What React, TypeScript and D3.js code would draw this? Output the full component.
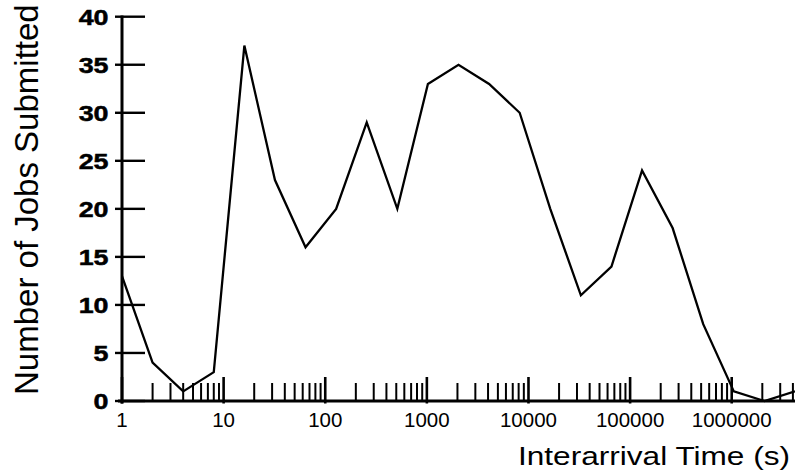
import React from "react";
import * as d3 from "d3";

const intervals = [
  1, 2, 4, 8, 16, 32, 64, 128, 256, 512, 1024, 2048, 4096, 8192, 16384, 32768,
  65536, 131072, 262144, 524288, 1048576, 2097152, 4194304,
];
const jobs = [13, 4, 1, 3, 37, 23, 16, 20, 29, 20, 33, 35, 33, 30, 20, 11, 14, 24, 18, 8, 1, 0, 1];
const xMajorTicks = [1, 10, 100, 1000, 10000, 100000, 1000000];
const xTickLabels = ["1", "10", "100", "1000", "10000", "100000", "1000000"];
const yTicks = [0, 5, 10, 15, 20, 25, 30, 35, 40];
const xTitle = "Interarrival Time (s)";
const yTitle = "Number of Jobs Submitted";

const W = 795;
const H = 473;
const FONT = "'Liberation Sans', Arial, Helvetica, sans-serif";

export default function App() {
  const x = d3.scaleLog().domain([1, 4194304]).range([122, 795]);
  const y = d3.scaleLinear().domain([0, 40]).range([401, 16.7]);
  const allTicks = x.ticks().filter((t) => t <= 4194304);
  const isMajor = (t: number) => Math.abs(Math.log10(t) - Math.round(Math.log10(t))) < 1e-9;
  const line = d3
    .line<number>()
    .x((_, i) => x(intervals[i]))
    .y((d) => y(d));

  return (
    <svg
      width={W}
      height={H}
      style={{ position: "absolute", left: 0, top: 0, display: "block", background: "#fff" }}
      fontFamily={FONT}
    >
      {/* y ticks */}
      {yTicks.map((t) => (
        <g key={"y" + t}>
          <line x1={115} x2={145} y1={y(t)} y2={y(t)} stroke="#000" strokeWidth={2.4} />
          <text
            transform={`translate(108.5,${y(t)}) scale(1.22,1)`}
            dy="0.36em"
            textAnchor="end"
            fontSize={22}
            fontWeight="bold"
            stroke="#000"
            strokeWidth={0.5}
          >
            {t}
          </text>
        </g>
      ))}
      {/* x ticks */}
      {allTicks.map((t) =>
        isMajor(t) ? (
          <line key={"x" + t} x1={x(t)} x2={x(t)} y1={377} y2={403.5} stroke="#000" strokeWidth={2.6} />
        ) : (
          <line key={"x" + t} x1={x(t)} x2={x(t)} y1={383} y2={401} stroke="#000" strokeWidth={2} />
        )
      )}
      {xMajorTicks.map((t, i) => (
        <text key={"xl" + t} x={x(t)} y={427} textAnchor="middle" fontSize={20.5}>
          {xTickLabels[i]}
        </text>
      ))}
      {/* axes */}
      <line x1={122} x2={122} y1={15.5} y2={403.5} stroke="#000" strokeWidth={3} />
      <line x1={118} x2={795} y1={401} y2={401} stroke="#000" strokeWidth={3} />
      {/* data line */}
      <path d={line(jobs) || ""} fill="none" stroke="#000" strokeWidth={2.3} />
      {/* titles */}
      <text
        x={518}
        y={465}
        textAnchor="start"
        fontSize={25}
        textLength={272}
        lengthAdjust="spacingAndGlyphs"
      >
        {xTitle}
      </text>
      <text transform="translate(38,395) rotate(-90)" textAnchor="start" fontSize={33}>
        {yTitle}
      </text>
    </svg>
  );
}
